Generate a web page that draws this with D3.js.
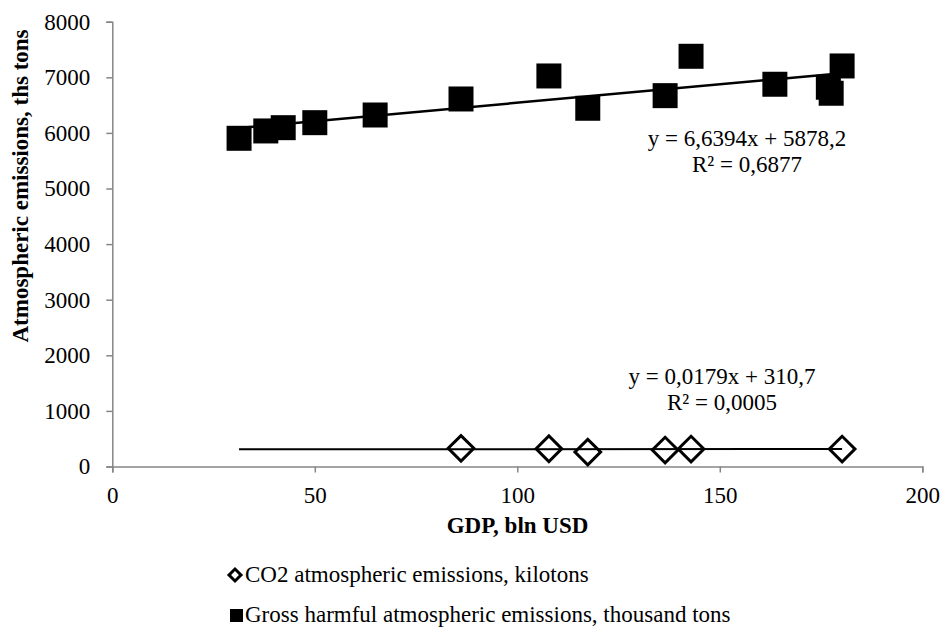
<!DOCTYPE html>
<html><head><meta charset="utf-8">
<script src="https://cdn.jsdelivr.net/npm/d3@7"></script>
<style>body{margin:0;background:#fff}svg{display:block}</style>
</head><body>
<svg id="c" width="942" height="627"></svg>
<script>
// Data
const grossGDP = [31.3, 37.9, 42.2, 50.0, 64.9, 86.1, 107.8, 117.4, 136.5, 142.9, 163.6, 176.8, 177.5, 180.2];
const grossVal = [5903, 6035, 6094, 6184, 6322, 6610, 7024, 6443, 6670, 7378, 6875, 6821, 6713, 7204];
const co2GDP = [86.1, 107.8, 117.4, 136.5, 142.9, 180.2];
const co2Val = [326, 319, 259, 295, 313, 313];
const grossTrend = {slope: 6.6394, intercept: 5878.2, label: "y = 6,6394x + 5878,2", r2: "R² = 0,6877"};
const co2Trend = {slope: 0.0179, intercept: 310.7, label: "y = 0,0179x + 310,7", r2: "R² = 0,0005"};
const xTicks = [0, 50, 100, 150, 200];
const yTicks = [0, 1000, 2000, 3000, 4000, 5000, 6000, 7000, 8000];
const seriesNames = ["CO2 atmospheric emissions, kilotons", "Gross harmful atmospheric emissions, thousand tons"];

const FONT = '"Liberation Serif", Tinos, serif';
const FS = 23;
const svg = d3.select("#c").style("font-family", FONT);
const x = d3.scaleLinear().domain([0, 200]).range([112.3, 922.3]);
const y = d3.scaleLinear().domain([0, 8000]).range([466.5, 21.7]);
const axisColor = "#868686";

const xa = svg.append("g").attr("transform", `translate(0,${y(0)})`)
  .call(d3.axisBottom(x).tickValues(xTicks).tickSize(6).tickPadding(14).tickFormat(d3.format("d")));
const ya = svg.append("g").attr("transform", `translate(${x(0)},0)`)
  .call(d3.axisLeft(y).tickValues(yTicks).tickSize(6).tickPadding(16).tickFormat(d3.format("d")));
[xa, ya].forEach(a => {
  a.attr("font-family", null).attr("font-size", null);
  a.select(".domain").attr("stroke", axisColor).attr("stroke-width", 1.5);
  a.selectAll(".tick line").attr("stroke", axisColor).attr("stroke-width", 1.5);
  a.selectAll(".tick text").style("font-family", FONT).style("font-size", FS + "px").attr("fill", "#000");
});

// markers
const sq = d3.symbol().type(d3.symbolSquare).size(625);
svg.append("g").selectAll("path").data(grossGDP).join("path")
  .attr("d", sq).attr("transform", (d, i) => `translate(${x(d)},${y(grossVal[i])})`).attr("fill", "#000");
const dm = d3.symbol().type(d3.symbolSquare).size(330);
svg.append("g").selectAll("path").data(co2GDP).join("path")
  .attr("d", dm).attr("transform", (d, i) => `translate(${x(d)},${y(co2Val[i])}) rotate(45)`)
  .attr("fill", "#fff").attr("stroke", "#000").attr("stroke-width", 3);

// trendlines
const xr = d3.extent(grossGDP);
const line = d3.line().x(d => x(d[0])).y(d => y(d[1]));
[[grossTrend, 2.5], [co2Trend, 2]].forEach(([t, w]) => {
  svg.append("path").attr("d", line(xr.map(v => [v, t.slope * v + t.intercept])))
    .attr("stroke", "#000").attr("stroke-width", w).attr("fill", "none");
});

function txt(xp, yp, s, opts = {}) {
  return svg.append("text").attr("x", xp).attr("y", yp).attr("text-anchor", opts.anchor || "middle")
    .style("font-family", FONT).style("font-size", FS + "px").style("font-weight", opts.bold ? "bold" : "normal")
    .attr("fill", "#000").text(s);
}
// trend labels
txt(747, 145.5, grossTrend.label); txt(747, 172, grossTrend.r2);
txt(722, 383.5, co2Trend.label); txt(722, 410, co2Trend.r2);

// axis titles
txt(517.5, 533, "GDP, bln USD", {bold: true});
svg.append("text").attr("transform", "translate(28,186) rotate(-90)").attr("text-anchor", "middle")
  .style("font-family", FONT).style("font-size", FS + "px").style("font-weight", "bold").text("Atmospheric emissions, ths tons");

// legend
svg.append("path").attr("d", d3.symbol().type(d3.symbolSquare).size(72)())
  .attr("transform", "translate(235,575) rotate(45)").attr("fill", "#fff").attr("stroke", "#000").attr("stroke-width", 3);
txt(245, 582, seriesNames[0], {anchor: "start"});
svg.append("path").attr("d", d3.symbol().type(d3.symbolSquare).size(169)())
  .attr("transform", "translate(236.5,615.5)").attr("fill", "#000");
txt(245, 622, seriesNames[1], {anchor: "start"});
</script>
</body></html>
